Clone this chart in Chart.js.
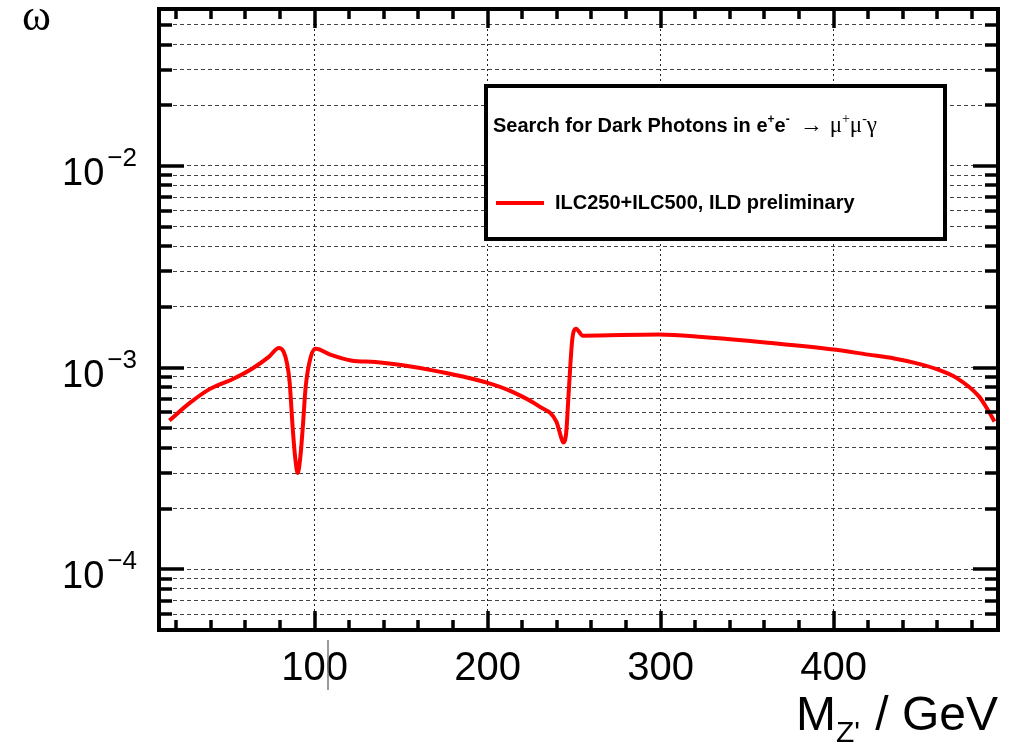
<!DOCTYPE html>
<html>
<head>
<meta charset="utf-8">
<script src="https://cdn.jsdelivr.net/npm/chart.js@4/dist/chart.umd.min.js"></script>
<style>
  html, body { margin: 0; padding: 0; background: #fff; }
  #wrap { width: 1010px; height: 744px; }
</style>
</head>
<body>
<div id="wrap"><canvas id="limitChart" width="1010" height="744"></canvas></div>
<script>
// Dark photon limit, epsilon vs M_Z'

const massGeV = [16, 28, 39, 53, 64, 73.5, 79.3, 82, 84, 85.5, 87.3, 88.7, 90.2, 91.7, 93, 94.8, 97.7, 100.6,
    109, 121, 135, 150, 172, 200, 214, 230, 239.7, 242.5, 243.7, 245.4, 246.6, 247.7, 248.9, 251, 255,
    299, 324, 362, 400, 420, 435, 447, 460, 471, 484, 489, 493];
const epsilon = [5.47e-4, 6.7e-4, 7.8e-4, 8.8e-4, 9.9e-4, 1.13e-3, 1.25e-3, 1.2e-3, 1.05e-3, 8.5e-4, 5.0e-4, 3.6e-4, 3.0e-4, 3.6e-4, 4.9e-4, 8.05e-4, 1.13e-3, 1.24e-3,
    1.16e-3, 1.085e-3, 1.065e-3, 1.03e-3, 9.55e-4, 8.4e-4, 7.6e-4, 6.4e-4, 5.4e-4, 4.5e-4, 4.25e-4, 4.77e-4, 6.95e-4, 1.0e-3, 1.38e-3, 1.56e-3, 1.44e-3,
    1.46e-3, 1.42e-3, 1.33e-3, 1.23e-3, 1.16e-3, 1.11e-3, 1.055e-3, 9.8e-4, 8.9e-4, 7.2e-4, 6.2e-4, 5.4e-4];

const xMajorTicks = [100, 200, 300, 400];
const xTickLabels = ['100', '200', '300', '400'];
const xMinorStep = 20;
const yDecades = [1e-4, 1e-3, 1e-2];
const yDecadeExponents = ['\u22124', '\u22123', '\u22122'];
const yMantissas = [1, 2, 3, 4, 5, 6, 7, 8, 9];

const seriesLabel = 'ILC250+ILC500, ILD preliminary';
const xMin = 10, xMax = 495, yMin = 5e-5, yMax = 0.06;

// all log ticks inside the range
const yTickValues = [];
[1e-5].concat(yDecades).forEach(d => {
    yMantissas.forEach(m => {
        const v = +(m * d).toPrecision(3);
        if (v >= yMin && v <= yMax) yTickValues.push(v);
    });
});
const xMinorTicks = [];
for (let v = xMinorStep; v < xMax; v += xMinorStep) xMinorTicks.push(v);

const SANS = '"Liberation Sans", Arial, sans-serif';
const SERIF = '"Liberation Serif", "Times New Roman", serif';

function drawRich(ctx, x, y, parts) {
    let cx = x;
    parts.forEach(p => {
        ctx.font = p.font;
        ctx.fillText(p.t, cx, y + (p.dy || 0));
        cx += ctx.measureText(p.t).width + (p.gap || 0);
    });
    return cx;
}
function richWidth(ctx, parts) {
    let w = 0;
    parts.forEach(p => { ctx.font = p.font; w += ctx.measureText(p.t).width + (p.gap || 0); });
    return w;
}

// ROOT style frame: inward ticks, superscript labels, legend box
const rootFrame = {
    id: 'rootFrame',
    afterDraw(chart) {
        const ctx = chart.ctx;
        const a = chart.chartArea;
        const xs = chart.scales.x, ys = chart.scales.y;
        ctx.save();
        ctx.strokeStyle = '#000';
        ctx.fillStyle = '#000';

        // ticks
        ctx.lineWidth = 3.5;
        ctx.beginPath();
        yTickValues.forEach(v => {
            const py = Math.round(ys.getPixelForValue(v));
            const major = yDecades.includes(v);
            const len = major ? 25 : 13;
            ctx.moveTo(a.left, py); ctx.lineTo(a.left + len, py);
            ctx.moveTo(a.right, py); ctx.lineTo(a.right - len, py);
        });
        xMinorTicks.forEach(v => {
            const px = Math.round(xs.getPixelForValue(v));
            const major = xMajorTicks.includes(v);
            const len = major ? 19 : 10;
            ctx.moveTo(px, a.bottom); ctx.lineTo(px, a.bottom - len);
            ctx.moveTo(px, a.top); ctx.lineTo(px, a.top + len);
        });
        ctx.stroke();

        // frame
        ctx.lineWidth = 4;
        ctx.strokeRect(a.left, a.top, a.right - a.left, a.bottom - a.top);

        // x tick labels
        ctx.textBaseline = 'alphabetic';
        ctx.textAlign = 'center';
        ctx.font = '40px ' + SANS;
        xMajorTicks.forEach((v, i) => {
            ctx.fillText(xTickLabels[i], xs.getPixelForValue(v), 680);
        });

        // y tick labels 10^n
        ctx.textAlign = 'left';
        yDecades.forEach((v, i) => {
            const py = ys.getPixelForValue(v);
            const parts = [
                { t: '10', font: '38px ' + SANS, dy: 19, gap: 3 },
                { t: yDecadeExponents[i], font: '26px ' + SANS, dy: 0 }
            ];
            const w = richWidth(ctx, parts);
            drawRich(ctx, 137 - w, py, parts);
        });

        // axis titles
        const xt = [
            { t: 'M', font: '48px ' + SANS, dy: 0 },
            { t: "Z'", font: '30px ' + SANS, dy: 12, gap: 2 },
            { t: ' / GeV', font: '48px ' + SANS, dy: 0 }
        ];
        drawRich(ctx, a.right - richWidth(ctx, xt), 730, xt);
        ctx.font = '44px ' + SERIF;
        ctx.fillText('\u03c9', 22, 30);

        // stray cursor mark inside the "100" label
        ctx.strokeStyle = '#777';
        ctx.lineWidth = 1.5;
        ctx.beginPath();
        ctx.moveTo(328, 640); ctx.lineTo(328, 690);
        ctx.stroke();

        // legend
        const lx = 486, ly = 86, lw = 459, lh = 153;
        ctx.fillStyle = '#fff';
        ctx.fillRect(lx, ly, lw, lh);
        ctx.strokeStyle = '#000';
        ctx.lineWidth = 4;
        ctx.strokeRect(lx, ly, lw, lh);
        ctx.fillStyle = '#000';
        const b = 'bold 20px ' + SANS, sb = 'bold 12px ' + SANS;
        const g = '23px ' + SERIF, sg = '14px ' + SERIF;
        drawRich(ctx, 493, 132, [
            { t: 'Search for Dark Photons in e', font: b },
            { t: '+', font: sb, dy: -9 },
            { t: 'e', font: b },
            { t: '-', font: sb, dy: -9, gap: 10 },
            { t: '\u2192', font: g, gap: 7 },
            { t: '\u03bc', font: g },
            { t: '+', font: sg, dy: -9 },
            { t: '\u03bc', font: g },
            { t: '-', font: sg, dy: -9 },
            { t: '\u03b3', font: g }
        ]);
        const ds = chart.data.datasets[0];
        ctx.strokeStyle = ds.borderColor;
        ctx.lineWidth = ds.borderWidth;
        ctx.beginPath();
        ctx.moveTo(496, 203); ctx.lineTo(544, 203);
        ctx.stroke();
        ctx.font = b;
        ctx.fillText(ds.label, 555, 209);
        ctx.restore();
    }
};

const ctx = document.getElementById('limitChart').getContext('2d');
new Chart(ctx, {
    type: 'line',
    data: {
        datasets: [{
            label: seriesLabel,
            data: massGeV.map((m, i) => ({ x: m, y: epsilon[i] })),
            borderColor: '#ff0000',
            borderWidth: 4,
            pointRadius: 0,
            fill: false,
            cubicInterpolationMode: 'monotone'
        }]
    },
    options: {
        responsive: false,
        animation: false,
        devicePixelRatio: 1,
        layout: { padding: { left: 0, top: 9, right: 12, bottom: 0 } },
        plugins: {
            legend: { display: false },
            tooltip: { enabled: false }
        },
        scales: {
            x: {
                type: 'linear',
                min: xMin,
                max: xMax,
                afterBuildTicks: s => { s.ticks = xMajorTicks.map(v => ({ value: v })); },
                afterFit: s => { s.height = 114; },
                ticks: { display: false },
                grid: { color: '#222', lineWidth: 1, drawTicks: false },
                border: { display: false, dash: [2, 3] }
            },
            y: {
                type: 'logarithmic',
                min: yMin,
                max: yMax,
                afterBuildTicks: s => { s.ticks = yTickValues.map(v => ({ value: v })); },
                afterFit: s => { s.width = 159; },
                ticks: { display: false },
                grid: { color: '#444', lineWidth: 1, drawTicks: false },
                border: { display: false, dash: [4, 3] }
            }
        }
    },
    plugins: [rootFrame]
});
</script>
</body>
</html>
